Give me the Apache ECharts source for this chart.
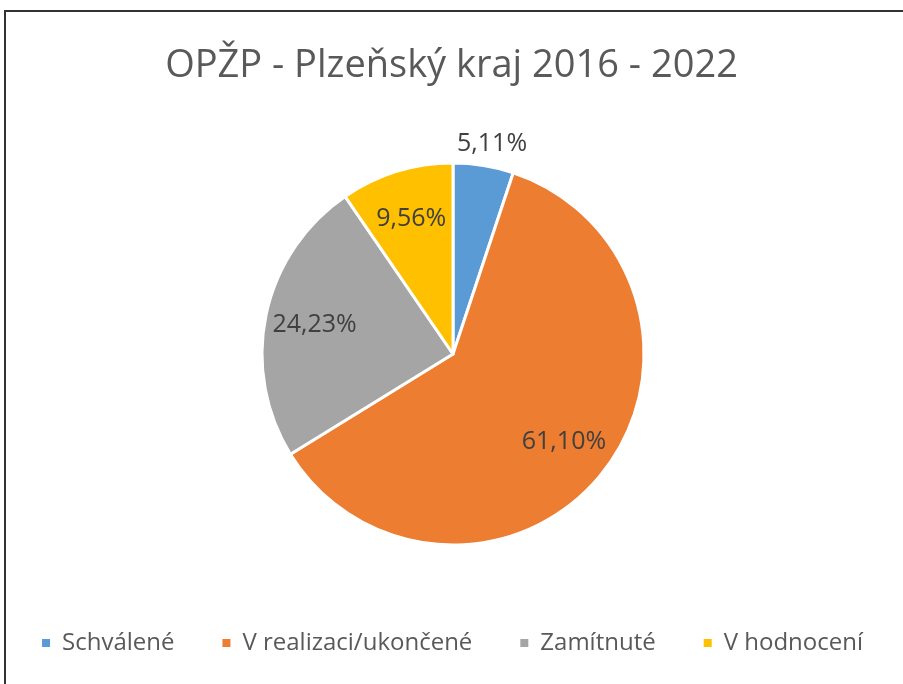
<!DOCTYPE html>
<html>
<head>
<meta charset="utf-8">
<script src="https://cdn.jsdelivr.net/npm/echarts@6/dist/echarts.min.js"></script>
<style>
  html, body { margin: 0; padding: 0; background: #fff; }
  #chart { width: 903px; height: 684px; }
</style>
</head>
<body>
<div id="chart"></div>
<script>
const categories = ["Schválené", "V realizaci/ukončené", "Zamítnuté", "V hodnocení"];
const shares = [5.11, 61.10, 24.23, 9.56];
const colors = ["#5B9BD5", "#ED7D31", "#A5A5A5", "#FFC000"];

const myEcharts = echarts.init(document.getElementById("chart"));
const fmt = (v) => v.toFixed(2).replace(".", ",") + "%";

const option = {
  animation: false,
  color: colors,
  title: {
    text: "OPŽP - Plzeňský kraj 2016 - 2022",
    left: "center",
    top: 42,
    textStyle: {
      fontFamily: "Open Sans",
      fontSize: 38,
      fontWeight: "normal",
      color: "#595959",
    },
  },
  legend: {
    top: 626,
    left: "center",
    itemWidth: 10,
    itemHeight: 10,
    itemGap: 46,
    icon: "rect",
    textStyle: {
      fontFamily: "Open Sans",
      fontSize: 24,
      color: "#595959",
      padding: [0, 0, 0, 6],
    },
    data: categories,
  },
  graphic: [
    {
      type: "rect",
      shape: { x: 5, y: 11, width: 1000, height: 1000 },
      style: { fill: "none", stroke: "#333", lineWidth: 2 },
      silent: true,
    },
  ],
  series: [
    {
      type: "pie",
      center: [453, 354],
      radius: [0, 191],
      startAngle: 90,
      clockwise: true,
      itemStyle: { borderColor: "#fff", borderWidth: 3 },
      emphasis: { disabled: true },
      label: {
        show: true,
        position: "outside",
        fontFamily: "Open Sans",
        fontSize: 25,
        color: "#404040",
        formatter: (p) => fmt(p.value),
      },
      labelLine: { show: false, length: 22, length2: 0 },
      labelLayout: () => ({ align: "center" }),
      data: categories.map((name, i) => ({
        name: name,
        value: shares[i],
        label: { show: i === 0 },
      })),
    },
    {
      type: "pie",
      center: [453, 354],
      radius: [86, 191],
      startAngle: 90,
      clockwise: true,
      silent: true,
      itemStyle: { color: "transparent", borderWidth: 0 },
      emphasis: { disabled: true },
      label: {
        show: true,
        position: "inside",
        fontFamily: "Open Sans",
        fontSize: 25,
        color: "#404040",
        formatter: (p) => fmt(p.value),
      },
      data: categories.map((name, i) => ({
        name: name,
        value: shares[i],
        label: { show: i !== 0 },
      })),
    },
  ],
};
myEcharts.setOption(option);
</script>
</body>
</html>
